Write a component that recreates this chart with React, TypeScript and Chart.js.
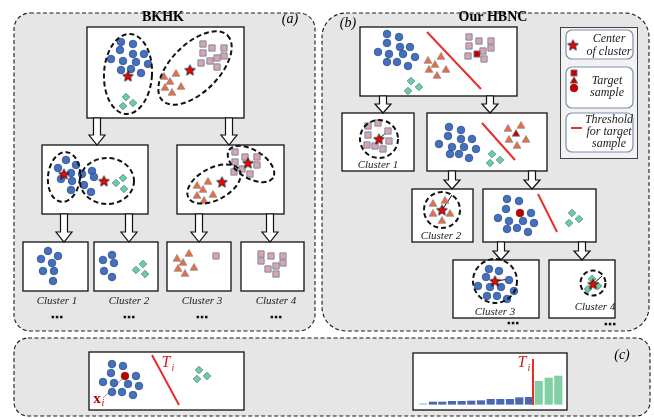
import { useEffect, useRef } from "react";
import { Chart, registerables } from "chart.js";

Chart.register(...registerables);

type Pt = [number, number];

// ---------------- point data (diagram coordinates) ----------------
const blueCircles: Pt[] = [
  // (a) top
  [121, 42], [133, 44], [120, 50], [133, 54], [144, 54], [111, 59], [123, 61], [136, 62], [148, 64], [121, 70], [131, 69], [141, 73],
  // (a) row 2 left
  [66, 160], [58, 168], [76, 165], [61, 179], [71, 173], [72, 181], [71, 190], [82, 174], [92, 171], [94, 177], [84, 185], [91, 192],
  // (a) cluster 1
  [48, 251], [41, 259], [58, 256], [52, 263], [43, 271], [54, 271], [53, 281],
  // (a) cluster 2
  [112, 255], [103, 260], [114, 263], [104, 271], [112, 277],
  // (b) top
  [387, 34], [399, 37], [387, 43], [400, 47], [410, 47], [378, 52], [389, 54], [403, 54], [415, 57], [387, 62], [397, 62], [408, 66],
  // (b) row 2
  [449, 127], [461, 130], [448, 136], [461, 139], [472, 139], [439, 144], [452, 147], [464, 147], [476, 149], [450, 154], [459, 154], [469, 158],
  // (b) row 3
  [507, 199], [519, 201], [506, 209], [531, 213], [498, 218], [509, 221], [523, 221], [534, 223], [507, 229], [517, 228], [528, 232],
  // (b) cluster 3
  [489, 269], [499, 271], [486, 277], [509, 280], [478, 286], [490, 287], [501, 287], [514, 291], [487, 296], [497, 296], [507, 299],
  // (c) left
  [112, 364], [123, 366], [111, 373], [136, 376], [103, 382], [114, 383], [128, 384], [139, 386], [112, 392], [122, 392], [133, 395],
];

const pinkSquares: Pt[] = [
  [203, 44], [212, 48], [224, 48], [203, 53], [224, 56], [217, 58], [210, 61], [201, 63], [217, 67],
  [235, 152], [245, 157], [257, 157], [235, 162], [257, 165], [242, 169], [234, 172], [250, 174],
  [216, 256],
  [261, 254], [271, 256], [283, 256], [261, 261], [283, 263], [276, 266], [268, 269], [276, 274],
  [469, 37], [479, 41], [491, 41], [469, 46], [491, 48], [483, 51], [468, 56], [484, 59],
  [368, 126], [378, 123], [368, 135], [388, 131], [389, 141], [367, 145], [375, 146], [383, 149],
];

const orangeTriangles: Pt[] = [
  [164, 77], [176, 74], [170, 82], [165, 88], [181, 87], [172, 93],
  [197, 186], [208, 182], [203, 190], [197, 196], [213, 195], [204, 201],
  [177, 259], [189, 254], [183, 263], [178, 269], [194, 268], [185, 274],
  [428, 61], [441, 57], [435, 65], [429, 70], [446, 70], [437, 76],
  [508, 129], [521, 126], [509, 140], [526, 140], [517, 146],
  [433, 204], [445, 201], [433, 214], [450, 214], [442, 221],
];

const greenDiamonds: Pt[] = [
  [126, 97], [133, 103], [123, 106],
  [116, 183], [123, 178], [124, 189],
  [143, 264], [136, 270], [145, 274],
  [411, 81], [419, 87], [408, 91],
  [492, 154], [500, 160], [490, 163],
  [572, 213], [579, 219], [569, 223],
  [592, 279], [598, 286], [588, 289],
  [199, 370], [207, 376], [197, 379],
];

const clusterCenters: Pt[] = [
  [128, 76], [190, 70], [64, 174], [104, 181], [222, 182], [248, 163],
  [379, 139], [442, 210], [495, 281], [593, 284], [573, 45],
];

const redSquares: Pt[] = [[477, 54], [574, 73]];
const redTriangles: Pt[] = [[516, 134], [574, 81]];
const redCircles: Pt[] = [[520, 213], [125, 376], [574, 88]];

const thresholdLines: Pt[][] = [
  [[427, 32], [481, 89]],
  [[482, 123], [515, 160]],
  [[538, 194], [557, 232]],
  [[152, 355], [179, 405]],
  [[533, 359], [533, 405]],
  [[571, 128], [582, 128]],
];
const radiusLines: Pt[][] = [
  [[379, 139], [391, 128]],
  [[442, 210], [452, 195]],
  [[495, 281], [510, 279]],
  [[593, 284], [602, 276]],
];
const guideLines: Pt[][] = [[[125, 376], [103, 398]]];

// (c) sorted-value bars
const barBase = 404.3;
const lowBarX = [423.3, 433, 442.3, 452, 461.7, 471.3, 481, 490.7, 500.3, 510, 519.3, 529];
const lowBarHeights = [0.6, 2.3, 2.3, 3, 3, 3.3, 3.6, 5, 5, 5, 6.6, 7];
const highBarX = [538.7, 548.7, 558.3];
const highBarHeights = [23, 26.3, 28.3];

// ---------------- layout ----------------
const panels = [
  { x: 14, y: 13, w: 301, h: 318, r: 16 },
  { x: 322, y: 13, w: 327, h: 318, r: 24 },
  { x: 14, y: 338, w: 636, h: 78, r: 14 },
];
const boxes = [
  [87, 27, 157, 91], [42, 145, 106, 69], [177, 145, 107, 69],
  [23, 242, 65, 49], [94, 242, 64, 49], [167, 242, 64, 49], [241, 242, 63, 49],
  [360, 27, 157, 69], [342, 113, 72, 58], [427, 113, 120, 58],
  [412, 189, 61, 53], [483, 189, 113, 53], [453, 260, 86, 58], [549, 260, 66, 58],
  [89, 352, 155, 58], [413, 353, 154, 57],
];
const arrows = [
  [97, 118, 145], [229, 118, 145], [64, 214, 242], [129, 214, 242], [199, 214, 242], [270, 214, 242],
  [383, 96, 113], [490, 96, 113], [452, 171, 189], [532, 171, 189], [501, 242, 260], [582, 242, 260],
];
const ellipses = [
  [128, 74, 24, 40, 3], [195, 68, 46, 24, -45], [64, 177, 16, 25, 6], [107, 181, 27, 23, 0],
  [214, 184, 29, 16, -28], [251, 164, 26, 14, 32],
];
const circles = [[379, 139, 19], [442, 210, 18], [495, 281, 22], [593, 283, 12.5]];
const dots = [[57, 317], [129, 317], [202, 317], [276, 317], [513, 323], [610, 324]];

const SERIF = '"Liberation Serif", "DejaVu Serif", serif';
const texts: [string, number, number, string, string][] = [
  ["BKHK", 163, 17, `bold 14px ${SERIF}`, "#000"],
  ["(a)", 290, 19, `italic 14px ${SERIF}`, "#000"],
  ["Our HBNC", 493, 17, `bold 14px ${SERIF}`, "#000"],
  ["(b)", 348, 23, `italic 14px ${SERIF}`, "#000"],
  ["(c)", 622, 355, `italic 14px ${SERIF}`, "#000"],
  ["Cluster 1", 57, 301, `italic 11px ${SERIF}`, "#222"],
  ["Cluster 2", 129, 301, `italic 11px ${SERIF}`, "#222"],
  ["Cluster 3", 202, 301, `italic 11px ${SERIF}`, "#222"],
  ["Cluster 4", 276, 301, `italic 11px ${SERIF}`, "#222"],
  ["Cluster 1", 378, 165, `italic 11px ${SERIF}`, "#222"],
  ["Cluster 2", 441, 236, `italic 11px ${SERIF}`, "#222"],
  ["Cluster 3", 495, 312, `italic 11px ${SERIF}`, "#222"],
  ["Cluster 4", 595, 307, `italic 11px ${SERIF}`, "#222"],
  ["Center", 609, 39, `italic 12px ${SERIF}`, "#222"],
  ["of cluster", 609, 52, `italic 12px ${SERIF}`, "#222"],
  ["Target", 607, 81, `italic 12px ${SERIF}`, "#222"],
  ["sample", 607, 93, `italic 12px ${SERIF}`, "#222"],
  ["Threshold", 609, 120, `italic 12px ${SERIF}`, "#222"],
  ["for target", 609, 132, `italic 12px ${SERIF}`, "#222"],
  ["sample", 609, 144, `italic 12px ${SERIF}`, "#222"],
  ["T", 166, 363, `italic 16px ${SERIF}`, "#D42020"],
  ["i", 173, 368, `italic 10px ${SERIF}`, "#D42020"],
  ["T", 522, 363, `italic 16px ${SERIF}`, "#D42020"],
  ["i", 529, 368, `italic 10px ${SERIF}`, "#D42020"],
  ["x", 97, 399, `bold 15px ${SERIF}`, "#C00000"],
  ["i", 103, 403, `italic 10px ${SERIF}`, "#C00000"],
];

function makeStar(): HTMLCanvasElement {
  const size = 13;
  const c = document.createElement("canvas");
  c.width = size;
  c.height = size;
  const g = c.getContext("2d")!;
  g.beginPath();
  for (let i = 0; i < 10; i++) {
    const r = i % 2 ? 2.4 : 5.6;
    const a = -Math.PI / 2 + (i * Math.PI) / 5;
    const px = size / 2 + r * Math.cos(a);
    const py = size / 2 + 0.5 + r * Math.sin(a);
    if (i) g.lineTo(px, py);
    else g.moveTo(px, py);
  }
  g.closePath();
  g.fillStyle = "#FF0000";
  g.fill();
  g.lineWidth = 0.9;
  g.strokeStyle = "#111";
  g.stroke();
  return c;
}

const diagramPlugin = {
  id: "diagram",
  beforeDraw(chart: any) {
    const ctx = chart.ctx as CanvasRenderingContext2D;
    ctx.save();
    ctx.fillStyle = "#ffffff";
    ctx.fillRect(0, 0, chart.width, chart.height);
    ctx.restore();
  },
  beforeDatasetsDraw(chart: any) {
    const ctx = chart.ctx as CanvasRenderingContext2D;
    const sx = chart.scales.x, sy = chart.scales.y;
    const X = (v: number) => sx.getPixelForValue(v);
    const Y = (v: number) => sy.getPixelForValue(v);
    ctx.save();
    // panels
    for (const p of panels) {
      ctx.beginPath();
      ctx.roundRect(X(p.x), Y(p.y), X(p.x + p.w) - X(p.x), Y(p.y + p.h) - Y(p.y), p.r);
      ctx.fillStyle = "#E6E6E6";
      ctx.fill();
      ctx.setLineDash([4, 2.5]);
      ctx.lineWidth = 1.1;
      ctx.strokeStyle = "#1a1a1a";
      ctx.stroke();
    }
    ctx.setLineDash([]);
    // legend
    ctx.fillStyle = "#F2F2F2";
    ctx.fillRect(X(560), Y(27), X(637) - X(560), Y(158) - Y(27));
    ctx.lineWidth = 1;
    ctx.strokeStyle = "#444";
    ctx.strokeRect(X(560) + 0.5, Y(27) + 0.5, X(637) - X(560), Y(158) - Y(27));
    for (const [x, y, w, h] of [[566, 30, 67, 29], [566, 67, 67, 41], [566, 113, 67, 39]]) {
      ctx.beginPath();
      ctx.roundRect(X(x), Y(y), X(x + w) - X(x), Y(y + h) - Y(y), 6);
      ctx.fillStyle = "#fff";
      ctx.fill();
      ctx.lineWidth = 1.2;
      ctx.strokeStyle = "#7F90AA";
      ctx.stroke();
    }
    // boxes
    for (const [x, y, w, h] of boxes) {
      ctx.fillStyle = "#fff";
      ctx.fillRect(X(x), Y(y), X(x + w) - X(x), Y(y + h) - Y(y));
      ctx.lineWidth = 1.3;
      ctx.strokeStyle = "#111";
      ctx.strokeRect(X(x), Y(y), X(x + w) - X(x), Y(y + h) - Y(y));
    }
    // arrows
    for (const [cx, y0, y1] of arrows) {
      const len = y1 - y0;
      const headL = len > 20 ? 10 : 9;
      const sw = 7, hw = 16;
      const c = X(cx);
      ctx.beginPath();
      ctx.moveTo(c - sw / 2, Y(y0));
      ctx.lineTo(c + sw / 2, Y(y0));
      ctx.lineTo(c + sw / 2, Y(y1 - headL));
      ctx.lineTo(c + hw / 2, Y(y1 - headL));
      ctx.lineTo(c, Y(y1));
      ctx.lineTo(c - hw / 2, Y(y1 - headL));
      ctx.lineTo(c - sw / 2, Y(y1 - headL));
      ctx.closePath();
      ctx.fillStyle = "#fff";
      ctx.fill();
      ctx.lineWidth = 1.2;
      ctx.strokeStyle = "#111";
      ctx.stroke();
    }
    ctx.restore();
  },
  afterDatasetsDraw(chart: any) {
    const ctx = chart.ctx as CanvasRenderingContext2D;
    const sx = chart.scales.x, sy = chart.scales.y;
    const X = (v: number) => sx.getPixelForValue(v);
    const Y = (v: number) => sy.getPixelForValue(v);
    ctx.save();
    ctx.setLineDash([5, 3]);
    ctx.lineWidth = 2;
    ctx.strokeStyle = "#111";
    for (const [cx, cy, rx, ry, rot] of ellipses) {
      ctx.beginPath();
      ctx.ellipse(X(cx), Y(cy), rx, ry, (rot * Math.PI) / 180, 0, Math.PI * 2);
      ctx.stroke();
    }
    for (const [cx, cy, r] of circles) {
      ctx.beginPath();
      ctx.arc(X(cx), Y(cy), r, 0, Math.PI * 2);
      ctx.stroke();
    }
    ctx.setLineDash([]);
    ctx.fillStyle = "#111";
    for (const [cx, cy] of dots) {
      for (let k = -1; k <= 1; k++) ctx.fillRect(X(cx) + k * 4.2 - 1.2, Y(cy) - 1.2, 2.5, 2.5);
    }
    ctx.textAlign = "center";
    ctx.textBaseline = "middle";
    for (const [t, x, y, font, color] of texts) {
      ctx.font = font;
      ctx.fillStyle = color;
      ctx.fillText(t, X(x), Y(y));
    }
    ctx.restore();
  },
};

export default function App() {
  const ref = useRef<HTMLCanvasElement>(null);
  useEffect(() => {
    const canvas = ref.current!;
    const star = makeStar();
    const pts = (a: Pt[]) => a.map(([x, y]) => ({ x, y }));
    const segs = (lines: Pt[][]) => {
      const out: any[] = [];
      for (const l of lines) {
        for (const [x, y] of l) out.push({ x, y });
        out.push({ x: l[l.length - 1][0], y: null });
      }
      return out;
    };
    const lineSet = (lines: Pt[][], color: string, width: number) => ({
      type: "scatter" as const,
      data: segs(lines),
      showLine: true,
      spanGaps: false,
      borderColor: color,
      borderWidth: width,
      pointRadius: 0,
    });
    const chart = new Chart(canvas, {
      type: "scatter",
      data: {
        datasets: [
          { data: pts(clusterCenters), pointStyle: star, pointRadius: 6 } as any,
          { data: pts(redSquares), pointStyle: "rect", pointRadius: 4.4, backgroundColor: "#C00000", borderColor: "#7F8AA0", borderWidth: 0.8 },
          { data: pts(redTriangles), pointStyle: "triangle", pointRadius: 4.5, backgroundColor: "#C00000", borderColor: "#7F8AA0", borderWidth: 0.8 },
          { data: pts(redCircles), pointStyle: "circle", pointRadius: 3.8, backgroundColor: "#C00000", borderColor: "#8a1010", borderWidth: 0.8 },
          { data: pts(blueCircles), pointStyle: "circle", pointRadius: 3.8, backgroundColor: "#4470BE", borderColor: "#2F4E8C", borderWidth: 0.8 },
          { data: pts(pinkSquares), pointStyle: "rect", pointRadius: 4.4, backgroundColor: "#D9A4AF", borderColor: "#7F8AA0", borderWidth: 1 },
          { data: pts(orangeTriangles), pointStyle: "triangle", pointRadius: 4.5, backgroundColor: "#EE6A38", borderColor: "#8A8F9E", borderWidth: 0.8 },
          { data: pts(greenDiamonds), pointStyle: "rectRot", pointRadius: 3.8, backgroundColor: "#6FCBA3", borderColor: "#4B8C7A", borderWidth: 0.8 },
          lineSet(radiusLines, "#111", 1),
          lineSet(guideLines, "#9a9a9a", 1),
          lineSet(thresholdLines, "#E8302A", 2),
          {
            type: "bar",
            data: lowBarX.map((x, i) => ({ x, y: [barBase, barBase - lowBarHeights[i]] })),
            backgroundColor: lowBarX.map((_, i) => (i === 0 ? "#A9B8E0" : "#4A67B2")),
            barThickness: 7.5,
            grouped: false,
          } as any,
          {
            type: "bar",
            data: highBarX.map((x, i) => ({ x, y: [barBase, barBase - highBarHeights[i]] })),
            backgroundColor: "#80CFA5",
            barThickness: 7.5,
            grouped: false,
          } as any,
        ],
      },
      options: {
        responsive: false,
        animation: false,
        events: [],
        layout: { padding: 0, autoPadding: false },
        scales: {
          x: { type: "linear", min: 0, max: 654, display: false, offset: false, grid: { offset: false } },
          y: { type: "linear", min: 0, max: 419, reverse: true, display: false, offset: false },
        },
        plugins: { legend: { display: false }, tooltip: { enabled: false } },
      },
      plugins: [diagramPlugin],
    });
    return () => chart.destroy();
  }, []);
  return (
    <div style={{ position: "fixed", left: 0, top: 0, width: 654, height: 419 }}>
      <canvas ref={ref} width={654} height={419} style={{ display: "block", width: 654, height: 419 }} />
    </div>
  );
}
